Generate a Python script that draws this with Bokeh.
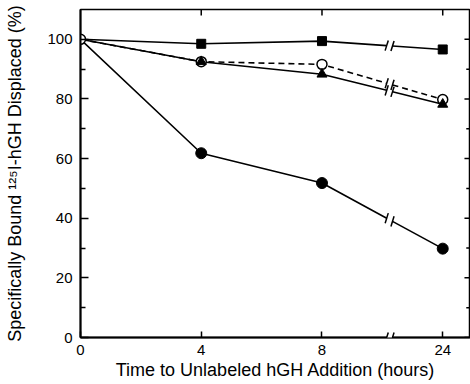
from bokeh.plotting import figure
from bokeh.models import Range1d, FixedTicker, Arrow, BoxAnnotation
from bokeh.embed import file_html
from bokeh.resources import INLINE

# ---- data -------------------------------------------------------------
hours = ["0", "4", "8", "24"]          # time points (axis broken before 24)
xpos = [0, 1, 2, 3]
filled_circles = [100, 61.8, 51.8, 29.8]
triangles = [100, 92.5, 88.3, 78.2]
open_circles = [100, 92.5, 91.6, 79.8]
squares = [100, 98.5, 99.4, 96.6]
y_ticks = [0, 20, 40, 60, 80, 100]
y_minor = [10, 30, 50, 70, 90]
BREAK = 2.56   # position of the axis break between 8 and 24
X_END = 3.23
Y_END = 110

FONT = "Liberation Sans"

p = figure(width=470, height=384, output_backend="svg", toolbar_location=None,
           x_range=Range1d(0, X_END), y_range=Range1d(0, Y_END),
           min_border_left=80, min_border_right=0, min_border_top=9, min_border_bottom=47)
p.grid.visible = False
p.outline_line_color = "black"
p.outline_line_width = 1.5
p.background_fill_color = "white"
p.border_fill_color = "white"

# bottom axis
xa = p.xaxis[0]
xa.ticker = FixedTicker(ticks=xpos, minor_ticks=[])
xa.major_label_overrides = {i: h for i, h in zip(xpos, hours)}
xa.major_tick_in = 6
xa.major_tick_out = 0
xa.axis_line_width = 2
xa.axis_line_color = "black"
xa.major_tick_line_width = 1.5
xa.major_label_text_font = FONT
xa.major_label_text_font_size = "15px"
xa.major_label_text_color = "black"
xa.major_label_standoff = 7
xa.axis_label = "Time to Unlabeled hGH Addition (hours)"
xa.axis_label_text_font = FONT
xa.axis_label_text_font_size = "18px"
xa.axis_label_text_color = "black"
xa.axis_label_text_font_style = "normal"
xa.axis_label_standoff = 2

# left axis
ya = p.yaxis[0]
ya.ticker = FixedTicker(ticks=y_ticks, minor_ticks=y_minor)
ya.major_tick_in = 8
ya.major_tick_out = 0
ya.minor_tick_in = 5
ya.minor_tick_out = 0
ya.axis_line_width = 2
ya.axis_line_color = "black"
ya.major_tick_line_width = 1.5
ya.minor_tick_line_width = 1.5
ya.major_label_text_font = FONT
ya.major_label_text_font_size = "15px"
ya.major_label_text_color = "black"
ya.major_label_standoff = 8
ya.axis_label = "Specifically Bound \u00b9\u00b2\u2075I-hGH Displaced (%)"
ya.axis_label_text_font = FONT
ya.axis_label_text_font_size = "18px"
ya.axis_label_text_color = "black"
ya.axis_label_text_font_style = "normal"
ya.axis_label_standoff = 19

# inward ticks along the top and right edges of the frame
p.segment(xpos[1:], [Y_END] * 3, xpos[1:], [Y_END - 2] * 3, line_color="black", line_width=1.5)
p.segment([X_END] * len(y_ticks), y_ticks, [X_END - 0.05] * len(y_ticks), y_ticks,
          line_color="black", line_width=1.5)
p.segment([X_END] * len(y_minor), y_minor, [X_END - 0.035] * len(y_minor), y_minor,
          line_color="black", line_width=1.5)

GAP = 0.024
SX = 0.013   # half horizontal extent of a break slash (data units)
SY = 1.7     # half vertical extent of a break slash (data units)


def broken(vals):
    """split a series into the part before and after the axis break"""
    frac_a = (BREAK - GAP - 2)
    frac_b = (BREAK + GAP - 2)
    ya_ = vals[2] + (vals[3] - vals[2]) * frac_a
    yb_ = vals[2] + (vals[3] - vals[2]) * frac_b
    return ([xpos[0], xpos[1], xpos[2], BREAK - GAP], [vals[0], vals[1], vals[2], ya_],
            [BREAK + GAP, xpos[3]], [yb_, vals[3]])


def draw(vals, dash="solid"):
    x1, y1, x2, y2 = broken(vals)
    p.line(x1, y1, line_color="black", line_width=1.6, line_dash=dash)
    p.line(x2, y2, line_color="black", line_width=1.6, line_dash=dash)
    xs0 = [x1[-1] - SX, x2[0] - SX]
    ys0 = [y1[-1] - SY, y2[0] - SY]
    xs1 = [x1[-1] + SX, x2[0] + SX]
    ys1 = [y1[-1] + SY, y2[0] + SY]
    p.segment(xs0, ys0, xs1, ys1, line_color="black", line_width=1.5)


draw(filled_circles)
draw(squares)
draw(triangles)
draw(open_circles, dash="6 4")

p.scatter(xpos[1:], filled_circles[1:], marker="circle", size=11,
          fill_color="black", line_color="black")
p.scatter(xpos[1:], squares[1:], marker="square", size=9,
          fill_color="black", line_color="black")
p.scatter(xpos, open_circles, marker="circle", size=10,
          fill_color="white", line_color="black", line_width=1.5)
p.scatter(xpos[1:], triangles[1:], marker="triangle", size=10,
          fill_color="black", line_color="black")

# break on the x axis
p.add_layout(BoxAnnotation(left=BREAK - GAP + 0.004, right=BREAK + GAP - 0.004,
                           bottom=-1.5, top=1.5, fill_color="white", fill_alpha=1,
                           line_color=None, level="overlay"))
for xb in (BREAK - GAP, BREAK + GAP):
    p.add_layout(Arrow(end=None, x_start=xb - SX, y_start=-SY, x_end=xb + SX, y_end=SY,
                       line_width=1.5, line_color="black", level="overlay"))

open("out.html", "w").write(file_html(p, INLINE))
